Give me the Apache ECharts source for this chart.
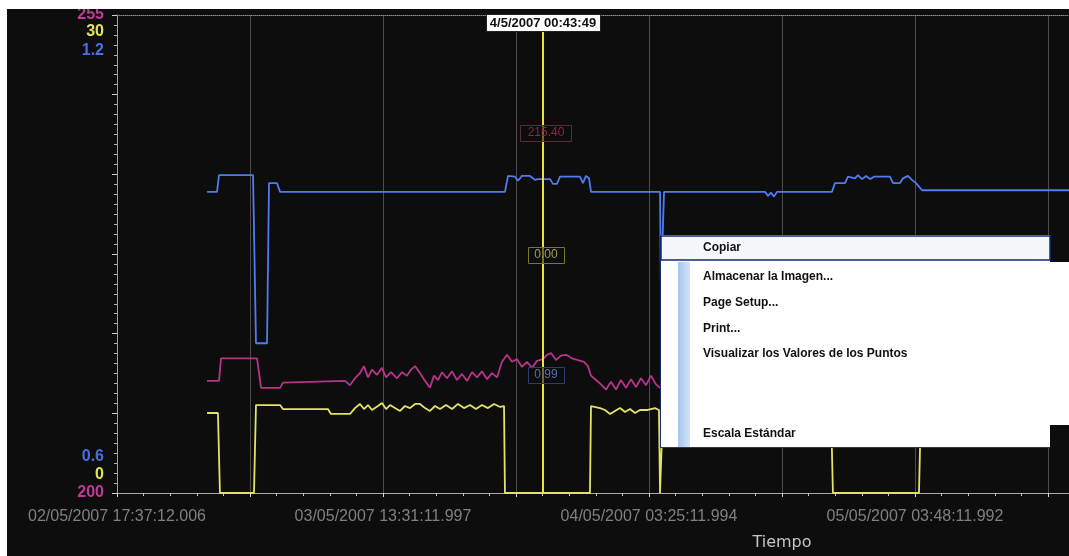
<!DOCTYPE html>
<html>
<head>
<meta charset="utf-8">
<script src="https://cdn.jsdelivr.net/npm/echarts@6/dist/echarts.min.js"></script>
<style>
  html, body { margin: 0; padding: 0; background: #ffffff; }
  #grafico { width: 1069px; height: 556px; }
</style>
</head>
<body>
<div id="grafico"></div>
<script>
// Eje de tiempo en divisiones de la rejilla (una división por línea vertical)
const etiquetasTiempo = [
  '02/05/2007 17:37:12.006',
  '03/05/2007 13:31:11.997',
  '04/05/2007 03:25:11.994',
  '05/05/2007 03:48:11.992'
];
const posEtiquetas = [0, 2, 4, 6];
const finEje = 7.158;

// Cursor de lectura
const cursorPos = 3.203;
const cursorTexto = '4/5/2007 00:43:49';

// Escalas de cada variable
const escalaAzul = [0.6, 1.2];
const escalaAmarilla = [0, 30];
const escalaMagenta = [200, 255];

// Serie azul [posición, valor]
const serieAzul = [
  [0.677, 0.978], [0.752, 0.978], [0.767, 0.999], [1.023, 0.999], [1.045, 0.788],
  [1.128, 0.788], [1.143, 0.989], [1.203, 0.989], [1.226, 0.978], [2.917, 0.978],
  [2.940, 0.998], [2.992, 0.997], [3.015, 0.992], [3.045, 0.998], [3.105, 0.998],
  [3.143, 0.993], [3.165, 0.994], [3.256, 0.994], [3.278, 0.988], [3.308, 0.988],
  [3.331, 0.997], [3.481, 0.997], [3.504, 0.989], [3.526, 0.998], [3.549, 0.995],
  [3.564, 0.978], [4.083, 0.978], [4.090, 0.855], [4.105, 0.855], [4.113, 0.978],
  [4.872, 0.978], [4.895, 0.973], [4.917, 0.977], [4.940, 0.972], [4.962, 0.978],
  [5.376, 0.978], [5.398, 0.989], [5.474, 0.989], [5.496, 0.997], [5.549, 0.995],
  [5.571, 0.999], [5.602, 0.994], [5.632, 0.998], [5.662, 0.994], [5.692, 0.997],
  [5.812, 0.997], [5.835, 0.989], [5.887, 0.989], [5.910, 0.995], [5.947, 0.998],
  [5.977, 0.993], [6.008, 0.989], [6.053, 0.980], [7.158, 0.980]
];

// Serie magenta [posición, valor]
const serieMagenta = [
  [0.677, 212.9], [0.767, 212.9], [0.782, 215.5], [1.053, 215.5], [1.083, 212.1],
  [1.226, 212.1], [1.248, 212.7], [1.714, 212.9], [1.752, 212.4], [1.789, 213.2],
  [1.827, 213.8], [1.857, 214.6], [1.887, 213.3], [1.917, 214.2], [1.955, 213.6],
  [1.992, 214.4], [2.023, 213.3], [2.060, 213.9], [2.105, 213.2], [2.143, 213.9],
  [2.180, 213.5], [2.211, 214.2], [2.241, 214.6], [2.278, 213.8], [2.316, 212.9],
  [2.353, 212.1], [2.383, 213.5], [2.414, 213.0], [2.444, 213.9], [2.481, 213.2],
  [2.519, 214.0], [2.556, 213.0], [2.594, 213.7], [2.632, 212.9], [2.669, 213.9],
  [2.707, 213.3], [2.744, 214.0], [2.782, 213.1], [2.820, 213.8], [2.857, 213.3],
  [2.895, 215.1], [2.932, 215.9], [2.970, 215.1], [3.008, 215.4], [3.045, 214.5],
  [3.083, 215.1], [3.120, 214.4], [3.158, 215.2], [3.203, 215.4], [3.233, 215.9],
  [3.263, 216.1], [3.301, 215.3], [3.338, 215.8], [3.376, 215.9], [3.421, 215.5],
  [3.466, 215.3], [3.511, 215.1], [3.541, 214.6], [3.564, 213.5], [3.602, 213.0],
  [3.639, 212.5], [3.677, 211.9], [3.714, 212.8], [3.752, 211.9], [3.789, 213.0],
  [3.827, 212.1], [3.865, 213.1], [3.902, 212.2], [3.940, 213.2], [3.977, 212.4],
  [4.015, 213.5], [4.053, 212.5], [4.083, 212.1], [4.383, 213.0], [5.135, 213.2],
  [5.887, 213.5], [7.158, 213.0]
];

// Serie amarilla [posición, valor]
const serieAmarilla = [
  [0.677, 5.02], [0.759, 5.02], [0.774, 0], [1.030, 0], [1.045, 5.52],
  [1.226, 5.52], [1.248, 5.27], [1.586, 5.27], [1.609, 4.96], [1.752, 4.96],
  [1.789, 5.33], [1.827, 5.59], [1.857, 5.27], [1.887, 5.52], [1.917, 5.21],
  [1.962, 5.46], [1.992, 5.65], [2.023, 5.27], [2.053, 5.52], [2.090, 5.33],
  [2.128, 5.15], [2.165, 5.46], [2.203, 5.33], [2.241, 5.59], [2.278, 5.59],
  [2.316, 5.33], [2.353, 5.15], [2.391, 5.46], [2.429, 5.27], [2.474, 5.52],
  [2.519, 5.27], [2.564, 5.59], [2.609, 5.33], [2.654, 5.52], [2.699, 5.27],
  [2.744, 5.52], [2.789, 5.33], [2.835, 5.59], [2.880, 5.40], [2.910, 5.46],
  [2.917, 0], [3.556, 0], [3.564, 5.46], [3.632, 5.33], [3.669, 5.21],
  [3.707, 4.96], [3.744, 5.15], [3.782, 5.33], [3.820, 5.08], [3.857, 5.27],
  [3.895, 5.02], [3.932, 5.21], [3.992, 5.21], [4.045, 5.33], [4.075, 5.21],
  [4.083, 0], [4.098, 0], [4.105, 5.33], [5.368, 5.33], [5.383, 0],
  [6.030, 0], [6.045, 5.40], [7.158, 5.40]
];

// Opciones del menú contextual
const opcionesMenu = [
  'Copiar',
  'Almacenar la Imagen...',
  'Page Setup...',
  'Print...',
  'Visualizar los Valores de los Puntos',
  'Escala Estándar'
];

const colorAzul = '#4f7cf2';
const colorMagenta = '#b8338a';
const colorAmarillo = '#e2e266';

function valorEn(serie, x) {
  for (let i = 0; i < serie.length - 1; i++) {
    const a = serie[i], b = serie[i + 1];
    if (x >= a[0] && x <= b[0]) {
      const t = b[0] === a[0] ? 0 : (x - a[0]) / (b[0] - a[0]);
      return a[1] + t * (b[1] - a[1]);
    }
  }
  return serie[serie.length - 1][1];
}

function casi(a, b) { return Math.abs(a - b) < 1e-6; }

function ejeY(escala, color, desplArriba, desplAbajo, extra) {
  return Object.assign({
    type: 'value',
    position: 'left',
    min: escala[0],
    max: escala[1],
    splitLine: { show: false },
    axisLine: { show: false },
    axisTick: { show: false },
    axisLabel: {
      customValues: escala,
      margin: 13,
      formatter: v => casi(v, escala[1]) ? '{sup|' + escala[1] + '}' : '{inf|' + escala[0] + '}',
      rich: {
        sup: { color: color, fontSize: 16, fontWeight: 'bold', fontFamily: 'Liberation Sans', padding: [desplArriba * 2, 0, 0, 0] },
        inf: { color: color, fontSize: 16, fontWeight: 'bold', fontFamily: 'Liberation Sans', padding: [0, 0, desplAbajo * 2, 0] }
      }
    }
  }, extra || {});
}

const grafico = echarts.init(document.getElementById('grafico'), null, { renderer: 'canvas' });

grafico.setOption({
  animation: false,
  backgroundColor: '#0d0d0d',
  grid: { left: 117, right: 0, top: 15, bottom: 63 },
  xAxis: [
    {
      type: 'value',
      min: 0,
      max: finEje,
      interval: 1,
      name: 'Tiempo',
      nameLocation: 'middle',
      nameGap: 42,
      nameTextStyle: { color: '#c4c4c4', fontSize: 16, fontFamily: 'DejaVu Sans', padding: [0, 0, 0, 378] },
      axisLine: { show: true, lineStyle: { color: '#a8a8a8', width: 1 } },
      axisTick: { show: true, length: 4, inside: false, lineStyle: { color: '#d8d8d8' } },
      minorTick: { show: true, splitNumber: 5, length: 3, lineStyle: { color: '#c8c8c8' } },
      splitLine: { show: true, lineStyle: { color: '#4c4c4c', width: 1 } },
      axisLabel: {
        customValues: posEtiquetas,
        margin: 16,
        color: '#808080',
        fontSize: 16,
        fontFamily: 'Liberation Sans',
        formatter: v => {
          const i = posEtiquetas.findIndex(p => casi(p, v));
          return i >= 0 ? etiquetasTiempo[i] : '';
        }
      }
    },
    {
      type: 'value',
      position: 'top',
      min: 0,
      max: finEje,
      axisLine: { show: true, lineStyle: { color: '#8a8a8a', type: 'dotted' } },
      axisTick: { show: false },
      axisLabel: { show: false },
      splitLine: { show: false }
    }
  ],
  yAxis: [
    ejeY(escalaAzul, '#4a6fe0', 36, 36, {
      axisLine: { show: true, lineStyle: { color: '#a0a0a0' } },
      axisTick: { show: true, length: 5, lineStyle: { color: '#d0d0d0' } },
      minorTick: { show: true, splitNumber: 8, length: 3, lineStyle: { color: '#b4b4b4' } }
    }),
    ejeY(escalaAmarilla, '#e4e45a', 17, 18),
    ejeY(escalaMagenta, '#c0389a', 0, 0)
  ],
  series: [
    {
      name: 'Azul',
      type: 'line',
      yAxisIndex: 0,
      data: serieAzul,
      showSymbol: false,
      lineStyle: { color: colorAzul, width: 1.8 },
      z: 3
    },
    {
      name: 'Magenta',
      type: 'line',
      yAxisIndex: 2,
      data: serieMagenta,
      showSymbol: false,
      lineStyle: { color: colorMagenta, width: 1.8 },
      z: 3
    },
    {
      name: 'Amarilla',
      type: 'line',
      yAxisIndex: 1,
      data: serieAmarilla,
      showSymbol: false,
      lineStyle: { color: colorAmarillo, width: 1.8 },
      z: 4,
      markLine: {
        silent: true,
        symbol: ['none', 'none'],
        label: { show: false },
        lineStyle: { color: '#e6e640', width: 2, type: 'solid' },
        data: [{ xAxis: cursorPos }]
      }
    }
  ]
});

// Posición del cursor en pantalla y lecturas de cada serie
const cx = grafico.convertToPixel({ xAxisIndex: 0 }, cursorPos);
const lecturas = [
  { texto: valorEn(serieMagenta, cursorPos).toFixed(2), y: 125, w: 51, borde: '#5c2a3c', color: '#8a2a40' },
  { texto: valorEn(serieAmarilla, cursorPos).toFixed(2), y: 247, w: 36, borde: '#77772e', color: '#a0a050' },
  { texto: valorEn(serieAzul, cursorPos).toFixed(2), y: 367, w: 36, borde: '#2c3c70', color: '#5a6ca8' }
];

const graficos = [];

lecturas.forEach(l => {
  graficos.push({
    type: 'rect', z: 50,
    shape: { x: Math.round(cx - l.w / 2 + 3) + 0.5, y: l.y + 0.5, width: l.w, height: 16 },
    style: { fill: 'rgba(12,12,12,0.55)', stroke: l.borde, lineWidth: 1 }
  });
  graficos.push({
    type: 'text', z: 51,
    x: cx + 3, y: l.y + 8,
    style: { text: l.texto, fill: l.color, font: '12px "Liberation Sans"', align: 'center', verticalAlign: 'middle' }
  });
});

// Etiqueta de fecha del cursor
graficos.push({
  type: 'rect', z: 60,
  shape: { x: Math.round(cx - 57) + 0.5, y: 14.5, width: 114, height: 17 },
  style: { fill: '#ffffff', stroke: '#202020', lineWidth: 1 }
});
graficos.push({
  type: 'text', z: 61,
  x: cx, y: 23.5,
  style: { text: cursorTexto, fill: '#111111', font: 'bold 13px "Liberation Sans"', align: 'center', verticalAlign: 'middle' }
});

// Menú contextual
graficos.push(
  { type: 'rect', z: 80, shape: { x: 660, y: 235, width: 390, height: 213 }, style: { fill: '#ffffff' } },
  { type: 'rect', z: 80, shape: { x: 1050, y: 262, width: 19, height: 163 }, style: { fill: '#ffffff' } },
  {
    type: 'rect', z: 81, shape: { x: 678, y: 262, width: 12, height: 185 },
    style: {
      fill: new echarts.graphic.LinearGradient(0, 0, 1, 0, [
        { offset: 0, color: '#a6c4ee' },
        { offset: 1, color: '#d4e4f8' }
      ])
    }
  },
  { type: 'line', z: 82, shape: { x1: 660.5, y1: 235, x2: 660.5, y2: 448 }, style: { stroke: '#1c2a6a', lineWidth: 1 } },
  { type: 'line', z: 82, shape: { x1: 660, y1: 447.5, x2: 1050, y2: 447.5 }, style: { stroke: '#30384a', lineWidth: 1 } },
  {
    type: 'rect', z: 83, shape: { x: 661, y: 236, width: 389, height: 24 },
    style: { fill: '#f6f7fb', stroke: '#15287c', lineWidth: 1.5 }
  }
);

const filasMenu = [248, 277, 303, 329, 354, 434];
opcionesMenu.forEach((t, i) => {
  graficos.push({
    type: 'text', z: 85,
    x: 703, y: filasMenu[i],
    style: { text: t, fill: '#111111', font: 'bold 12px "Liberation Sans"', align: 'left', verticalAlign: 'middle' }
  });
});

// Marco blanco de la captura
graficos.push(
  { type: 'rect', z: 90, shape: { x: 0, y: 0, width: 1069, height: 9 }, style: { fill: '#ffffff' } },
  { type: 'rect', z: 90, shape: { x: 0, y: 0, width: 7, height: 556 }, style: { fill: '#ffffff' } }
);

grafico.setOption({ graphic: graficos });
</script>
</body>
</html>
